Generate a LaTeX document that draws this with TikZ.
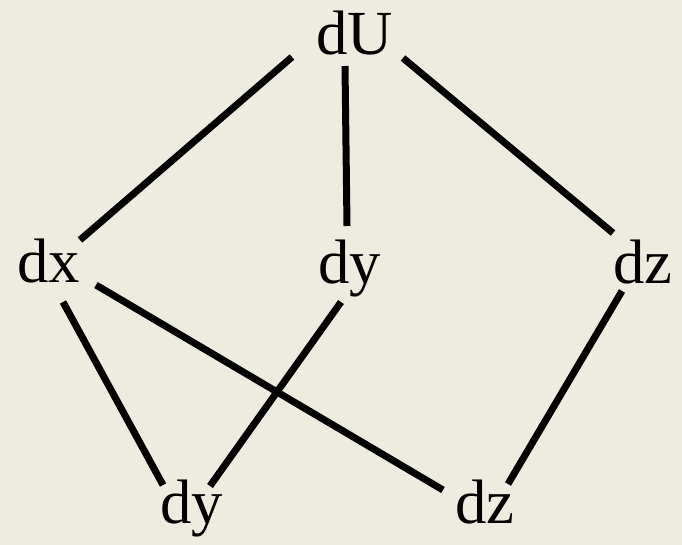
\documentclass[tikz,border=0pt]{standalone}
\usepackage{fontspec}
\setmainfont{Liberation Serif}
\definecolor{paper}{RGB}{238,235,225}
\begin{document}
\begin{tikzpicture}[x=1bp,y=-1bp,
  lbl/.style={anchor=base west,inner sep=0pt,font=\fontsize{63}{63}\selectfont},
  edge/.style={line width=7bp,black}]
\fill[paper] (0,0) rectangle (682,545);
\useasboundingbox (0,0) rectangle (682,545);
% labels
\node[lbl] (U)  at (316,55)  {dU};
\node[lbl] (x)  at (17,282)  {dx};
\node[lbl] (y1) at (318,283) {dy};
\node[lbl] (z1) at (613,283) {dz};
\node[lbl] (y2) at (160,523) {dy};
\node[lbl] (z2) at (455,523) {dz};
% connector end points around the labels
\coordinate (U-l) at (292,57);
\coordinate (U-m) at (345,66);
\coordinate (U-r) at (403,58);
\coordinate (x-t) at (80,240);
\coordinate (x-b) at (63,302);
\coordinate (x-r) at (96,285);
\coordinate (y1-t) at (347,226);
\coordinate (y1-b) at (341,302);
\coordinate (z1-t) at (613,233);
\coordinate (z1-b) at (622,291);
\coordinate (y2-l) at (163,485);
\coordinate (y2-r) at (210,486);
\coordinate (z2-l) at (443,490);
\coordinate (z2-r) at (508,484);
% connectors
\draw[edge] (U-l) -- (x-t);
\draw[edge] (U-m) -- (y1-t);
\draw[edge] (U-r) -- (z1-t);
\draw[edge] (x-b) -- (y2-l);
\draw[edge] (x-r) -- (z2-l);
\draw[edge] (y1-b) -- (y2-r);
\draw[edge] (z1-b) -- (z2-r);
\end{tikzpicture}
\end{document}
